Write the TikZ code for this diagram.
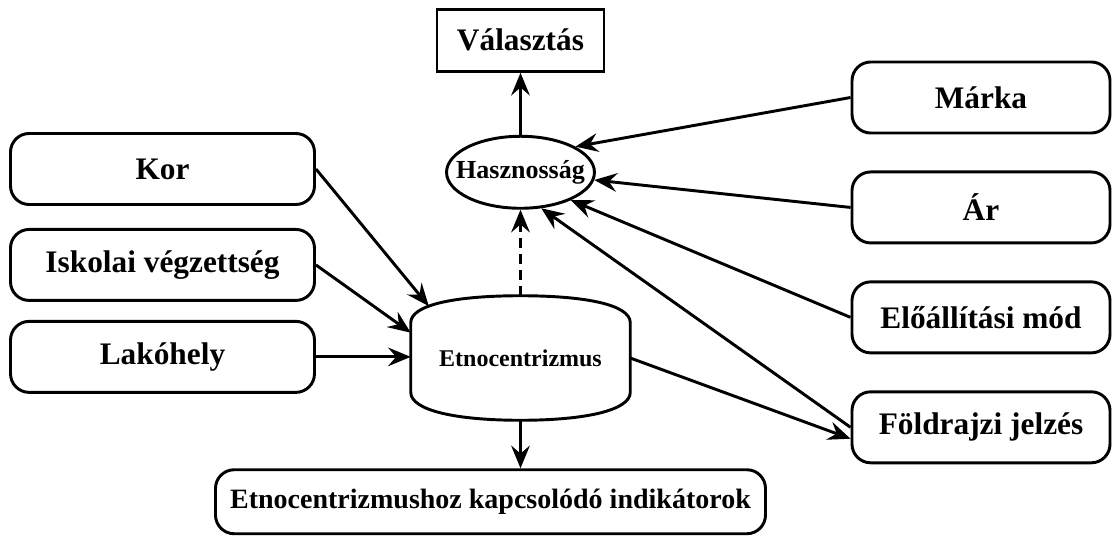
\documentclass[tikz,border=0pt]{standalone}
\usepackage{fontspec}
\setmainfont{Liberation Serif}
\usepackage{xcolor}
\usepackage{tikz}
\usetikzlibrary{positioning,arrows.meta,shapes.geometric,calc}
\definecolor{ETInk}{HTML}{000000}
\tikzset{etleft/.style={draw=ETInk, rounded corners=14pt, line width=2.2pt, align=center, minimum width=228pt, minimum height=53.25pt, font=\fontsize{23.5}{26}\selectfont\bfseries}, etright/.style={etleft, minimum width=193.5pt}, etchoice/.style={draw=ETInk, line width=2.2pt, align=center, inner xsep=4pt, minimum width=125.25pt, minimum height=46.5pt, font=\fontsize{23.5}{26}\selectfont\bfseries}, etutility/.style={draw=ETInk, ellipse, line width=2.2pt, inner xsep=-9pt, inner ysep=6pt, minimum width=107.25pt, minimum height=54pt, font=\fontsize{19.5}{22}\selectfont\bfseries}, etcore/.style={inner sep=0pt, minimum width=164.25pt, minimum height=93pt, font=\fontsize{18}{21}\selectfont\bfseries}, etindicator/.style={etleft, minimum width=412.5pt, minimum height=48pt, font=\fontsize{21}{24}\selectfont\bfseries}, etoutline/.style={draw=ETInk, line width=2.2pt}, etarrow/.style={-{Stealth[length=17pt,width=14pt,inset=6pt]}, line width=2.2pt, draw=ETInk}, etdashedarrow/.style={etarrow, dash pattern=on 7pt off 5pt}}
\begin{document}
\begin{tikzpicture}[x=0.75pt, y=-0.75pt, node distance=27pt]
\useasboundingbox (0,0) rectangle (1113,536);
\node[etcore] (etno) at (520.5,358) {Etnocentrizmus};
\node[etutility, above=64.5pt of etno] (hasz) {Hasznosság};
\node[etchoice, above=46.5pt of hasz] (valaszt) {Választás};
\node[etleft] (kor) at (162.5,169) {Kor};
\node[etleft, below=16.5pt of kor] (iskola) {Iskolai végzettség};
\node[etleft, below=13.5pt of iskola] (lako) {Lakóhely};
\node[etright] (marka) at (981,97.5) {Márka};
\node[etright, below=of marka] (ar) {Ár};
\node[etright, below=of ar] (eloall) {Előállítási mód};
\node[etright, below=of eloall] (fold) {Földrajzi jelzés};
\node[etindicator, below=36pt of etno, xshift=-22.5pt] (indik) {Etnocentrizmushoz kapcsolódó indikátorok};
\draw[etoutline] ($(etno.north west)+(0,27)$) .. controls +(0,-18) and +(-65,0) .. (etno.north) coordinate[pos=.38] (etnokor) .. controls +(65,0) and +(0,-18) .. ($(etno.north east)+(0,27)$) -- ($(etno.south east)+(0,-28)$) .. controls +(0,18) and +(65,0) .. (etno.south) .. controls +(-65,0) and +(0,18) .. ($(etno.south west)+(0,-28)$) -- cycle;
\draw[etarrow] (hasz) -- (valaszt);
\draw[etdashedarrow] (etno.north) -- (hasz.south);
\draw[etarrow] (etno.south) -- (etno.south |- indik.north);
\draw[etarrow] (kor.east) -- (etnokor);
\draw[etarrow] (iskola.east) -- (etno.167);
\draw[etarrow] (lako.east) -- (lako.east -| etno.west);
\draw[etarrow] (marka.west) -- (hasz.25);
\draw[etarrow] (ar.west) -- (hasz.-6);
\draw[etarrow] (eloall.west) -- (hasz.-29);
\draw[etarrow] (fold.west) -- (hasz.-60);
\draw[etarrow] (etno.east) -- (fold.185);
\end{tikzpicture}
\end{document}
